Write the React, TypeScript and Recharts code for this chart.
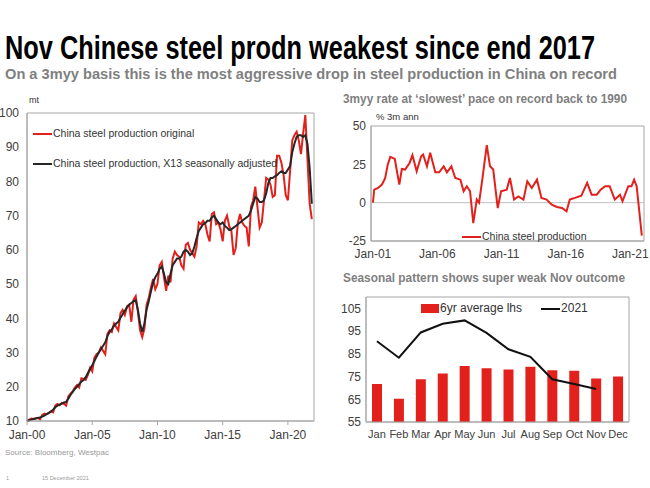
import { LineChart, Line, XAxis, YAxis, ComposedChart, Bar, ReferenceLine, ReferenceArea } from 'recharts'

const FONT = '"Liberation Sans", Arial, sans-serif'
const NARROW = '"Liberation Sans Narrow", "Arial Narrow", "Liberation Sans", Arial, sans-serif'
const RED = '#e2201c'
const DARK = '#262626'
const AXIS = '#a6a6a6'
const TICK = '#404040'

// ---- left chart: monthly steel output, sampled Jan/Mar/May/Jul/Sep/Nov ----
const years = [2000, 2001, 2002, 2003, 2004, 2005, 2006, 2007, 2008, 2009, 2010,
  2011, 2012, 2013, 2014, 2015, 2016, 2017, 2018, 2019, 2020, 2021]
const sampledMonths = [0, 2, 4, 6, 8, 10]
const steelOriginal = [
  [10.0, 10.4, 10.7, 10.6, 10.8, 10.9],
  [10.5, 11.8, 12.2, 12.0, 12.4, 12.8],
  [12.5, 14.5, 15.0, 14.6, 15.3, 15.0],
  [14.5, 17.2, 18.0, 18.6, 19.8, 20.5],
  [19.8, 22.5, 22.3, 22.0, 23.5, 25.5],
  [24.5, 28.5, 29.5, 30.0, 31.5, 30.5],
  [29.5, 35.5, 36.5, 36.0, 38.5, 37.5],
  [36.5, 41.5, 42.5, 41.0, 43.5, 44.0],
  [39.0, 45.5, 46.5, 42.0, 36.5, 34.5],
  [37.0, 44.0, 46.0, 49.0, 51.5, 48.5],
  [50.0, 55.5, 56.5, 52.0, 48.0, 52.5],
  [50.5, 57.5, 59.5, 58.5, 58.0, 55.5],
  [54.5, 61.5, 62.0, 60.0, 59.0, 58.0],
  [61.0, 68.0, 67.5, 68.5, 67.5, 64.5],
  [62.5, 70.5, 71.0, 67.5, 68.0, 66.0],
  [62.5, 68.5, 70.0, 67.0, 65.5, 58.5],
  [60.5, 68.0, 70.5, 68.0, 67.0, 66.5],
  [61.0, 72.5, 74.5, 78.5, 72.5, 66.5],
  [68.0, 74.5, 81.0, 80.5, 79.0, 75.5],
  [76.0, 87.5, 87.5, 85.5, 82.0, 76.0],
  [74.5, 83.0, 92.0, 93.5, 94.5, 92.0],
  [88.0, 94.0, 99.4, 86.5, 73.5, 69.0],
]
const steelSA = [
  [10.0, 10.2, 10.4, 10.6, 10.7, 10.9],
  [11.0, 11.3, 11.6, 12.0, 12.3, 12.8],
  [13.3, 14.0, 14.5, 14.8, 15.1, 15.4],
  [15.6, 16.5, 17.6, 18.5, 19.3, 20.0],
  [20.8, 21.5, 22.0, 22.8, 24.0, 25.2],
  [26.3, 27.5, 28.8, 30.0, 31.0, 32.0],
  [33.0, 34.8, 36.0, 36.8, 37.8, 38.5],
  [39.0, 40.2, 41.2, 42.2, 43.2, 44.0],
  [44.5, 45.0, 45.3, 42.5, 38.5, 36.0],
  [38.5, 42.5, 45.0, 47.8, 50.5, 52.0],
  [53.0, 54.5, 55.2, 53.0, 50.5, 50.0],
  [53.0, 55.5, 56.5, 57.5, 57.5, 58.0],
  [59.5, 60.0, 59.5, 58.5, 59.0, 61.0],
  [63.5, 65.5, 66.5, 67.5, 67.8, 68.5],
  [68.5, 69.5, 70.0, 69.0, 68.0, 67.5],
  [68.0, 67.0, 66.5, 65.8, 66.0, 66.5],
  [67.0, 67.5, 68.0, 68.5, 69.0, 69.5],
  [70.0, 71.5, 73.5, 75.5, 75.0, 74.0],
  [74.0, 74.5, 76.5, 79.5, 81.0, 81.0],
  [81.5, 81.8, 82.5, 83.0, 82.5, 82.5],
  [83.5, 84.5, 88.5, 91.0, 93.0, 93.5],
  [93.5, 93.0, 93.5, 91.0, 84.0, 73.5],
]
const steelTicks = [2000, 2005, 2010, 2015, 2020]
const steelYTicks = [10, 20, 30, 40, 50, 60, 70, 80, 90, 100]

// ---- top right: 3m/yy annualised rate ----
const rateTimes = [2001.0, 2001.1, 2001.4, 2001.7, 2001.95, 2002.15, 2002.35, 2002.7, 2003.05, 2003.25,
  2003.5, 2003.85, 2004.07, 2004.4, 2004.75, 2004.9, 2005.2, 2005.45, 2005.85, 2006.15,
  2006.5, 2006.75, 2007.1, 2007.4, 2007.8, 2008.05, 2008.3, 2008.55, 2008.8, 2009.07,
  2009.25, 2009.5, 2009.85, 2010.1, 2010.35, 2010.7, 2010.96, 2011.4, 2011.65, 2011.97,
  2012.3, 2012.7, 2013.0, 2013.35, 2013.75, 2014.1, 2014.5, 2014.9, 2015.3, 2015.7,
  2016.05, 2016.3, 2016.7, 2017.2, 2017.65, 2018.0, 2018.4, 2018.7, 2019.05, 2019.4,
  2019.8, 2020.2, 2020.4, 2020.85, 2021.1, 2021.3, 2021.5, 2021.9]
const rateValues = [0, 8.5, 9.6, 11.8, 16, 24.8, 29.9, 28.5, 11.8, 22,
  21.6, 25.9, 31, 20.5, 30.3, 31.4, 23.7, 32.5, 19.8, 19.8,
  23.7, 19.8, 23.7, 16.1, 15, 7.4, 10.7, 7.4, -13.3, 2,
  0, 15, 37.5, 23.7, 21.6, -3.5, 7.4, 8.5, 16.1, 2,
  4.1, 2, 13.9, 9.6, 15, 3.1, 2, -1.3, -2.8, -3.5,
  -5.7, 2, 3.1, 4.6, 12.9, 5.2, 5.2, 8.5, 10.7, 10.7,
  2, 5.2, 0.9, 10.7, 10.7, 15, 10.7, -21.5]
const rateTicks = [2001, 2006, 2011, 2016, 2021]
const rateYTicks = [-25, 0, 25, 50]

// ---- bottom right: seasonal pattern ----
const months = ['Jan', 'Feb', 'Mar', 'Apr', 'May', 'Jun', 'Jul', 'Aug', 'Sep', 'Oct', 'Nov', 'Dec']
const avg6yr = [71.7, 65.2, 73.8, 76.3, 79.6, 78.7, 78.1, 79.3, 77.8, 77.6, 74.1, 75.0]
const y2021 = [90.5, 83.3, 94.4, 98.2, 99.7, 94.2, 87.0, 83.7, 73.8, 71.7, 69.5, null]
const seasonYTicks = [55, 65, 75, 85, 95, 105]

const steelData = years.flatMap((yr, i) =>
  sampledMonths.map((m, j) => ({ t: yr + m / 12, orig: steelOriginal[i][j], sa: steelSA[i][j] }))
)
const rateData = rateTimes.map((t, i) => ({ t, v: rateValues[i] }))
const seasonData = months.map((m, i) => ({ m, avg: avg6yr[i], cur: y2021[i] }))

const janLabel = (y: number) => `Jan-${String(Math.round(y) % 100).padStart(2, '0')}`
const tickStyle = { fill: TICK, fontSize: 12, fontFamily: FONT }

function LineSample({ color }: { color: string }) {
  return <span style={{ display: 'inline-block', width: 19, height: 2, background: color, verticalAlign: 'middle', marginRight: 1 }} />
}

export default function App() {
  return (
    <div style={{ position: 'absolute', left: 0, top: 0, width: 650, height: 488, background: '#fff', overflow: 'hidden', fontFamily: FONT }}>
      {/* left: levels */}
      <div style={{ position: 'absolute', left: 0, top: 100 }}>
        <LineChart width={330} height={345} data={steelData} margin={{ top: 13, right: 16, bottom: 4, left: 0 }}>
          <XAxis dataKey="t" type="number" domain={[2000, 2022]} ticks={steelTicks} tickFormatter={janLabel}
            tick={tickStyle} stroke={AXIS} tickSize={4} tickMargin={5} height={20} interval={0} />
          <YAxis domain={[10, 100]} ticks={steelYTicks} tick={tickStyle} stroke={AXIS} tickLine={false} width={27} interval={0} />
          <ReferenceArea y1={10} y2={100} fill="none" stroke={AXIS} />
          <Line dataKey="orig" stroke={RED} strokeWidth={2} dot={false} isAnimationActive={false} />
          <Line dataKey="sa" stroke={DARK} strokeWidth={2} dot={false} isAnimationActive={false} />
        </LineChart>
      </div>
      <div style={{ position: 'absolute', left: 33, top: 126, fontSize: 10.5, color: '#333', lineHeight: '14px', whiteSpace: 'nowrap' }}>
        <div style={{ height: 30 }}><LineSample color={RED} />China steel production original</div>
        <div><LineSample color={DARK} />China steel production, X13 seasonally adjusted</div>
      </div>

      {/* top right: 3m yy rate */}
      <div style={{ position: 'absolute', left: 330, top: 110 }}>
        <LineChart width={320} height={160} data={rateData} margin={{ top: 16, right: 6, bottom: 9, left: 0 }}>
          <XAxis dataKey="t" type="number" domain={[2000.85, 2022.07]} ticks={rateTicks} tickFormatter={janLabel}
            tick={tickStyle} stroke={AXIS} tickLine={false} height={20} interval={0} />
          <YAxis domain={[-25, 50]} ticks={rateYTicks} tick={tickStyle} stroke={AXIS} tickLine={false} tickSize={3} width={41} interval={0} />
          <ReferenceArea y1={-25} y2={50} fill="none" stroke={AXIS} />
          <ReferenceLine y={0} stroke="#bfbfbf" />
          <Line dataKey="v" stroke={RED} strokeWidth={2} dot={false} isAnimationActive={false} />
        </LineChart>
      </div>
      <div style={{ position: 'absolute', left: 462, top: 229, fontSize: 10.5, color: '#333', lineHeight: '14px', whiteSpace: 'nowrap' }}>
        <LineSample color={RED} />China steel production
      </div>

      {/* bottom right: seasonal */}
      <div style={{ position: 'absolute', left: 330, top: 285 }}>
        <ComposedChart width={320} height={170} data={seasonData} margin={{ top: 12, right: 21, bottom: 13, left: 0 }}>
          <XAxis dataKey="m" tick={{ ...tickStyle, fontSize: 11 }} stroke={AXIS} tickLine={false} height={20} interval={0} />
          <YAxis domain={[55, 110]} ticks={seasonYTicks} tick={tickStyle} stroke={AXIS} tickLine={false} tickSize={3} width={36} interval={0} allowDataOverflow />
          <ReferenceArea y1={55} y2={110} fill="none" stroke={AXIS} />
          <Bar dataKey="avg" fill={RED} barSize={10} isAnimationActive={false} />
          <Line dataKey="cur" stroke="#111" strokeWidth={2} dot={false} isAnimationActive={false} />
        </ComposedChart>
      </div>
      <div style={{ position: 'absolute', left: 421, top: 301, fontSize: 12, color: '#333', lineHeight: '14px', whiteSpace: 'nowrap' }}>
        <span style={{ display: 'inline-block', width: 18, height: 9, background: RED, verticalAlign: 'middle', marginRight: 1 }} />
        <span style={{ marginRight: 19 }}>6yr average lhs</span>
        <LineSample color="#111" />2021
      </div>

      {/* headings and notes */}
      <svg width={650} height={488} style={{ position: 'absolute', left: 0, top: 0, pointerEvents: 'none' }} fontFamily={FONT}>
        <text x={5} y={59} fontSize={33} fontWeight="bold" fill="#000" fontFamily={NARROW} textLength={590} lengthAdjust="spacingAndGlyphs">
          Nov Chinese steel prodn weakest since end 2017
        </text>
        <text x={5} y={79} fontSize={15} fontWeight="bold" fill="#7f7f7f" textLength={612} lengthAdjust="spacingAndGlyphs">
          On a 3myy basis this is the most aggressive drop in steel production in China on record
        </text>
        <text x={343} y={103} fontSize={12.5} fontWeight="bold" fill="#7f7f7f" textLength={284} lengthAdjust="spacingAndGlyphs">
          3myy rate at ‘slowest’ pace on record back to 1990
        </text>
        <text x={343} y={282} fontSize={12.5} fontWeight="bold" fill="#7f7f7f" textLength={282} lengthAdjust="spacingAndGlyphs">
          Seasonal pattern shows super weak Nov outcome
        </text>
        <text x={29} y={103} fontSize={9} fill="#333">mt</text>
        <text x={376} y={120} fontSize={9.5} fill="#333">% 3m ann</text>
        <text x={5} y={455} fontSize={8} fill="#999">Source: Bloomberg,  Westpac</text>
        <text x={6} y={480} fontSize={5.5} fill="#999">1</text>
        <text x={42} y={480} fontSize={5.5} fill="#999">15 December 2021</text>
      </svg>
    </div>
  )
}
